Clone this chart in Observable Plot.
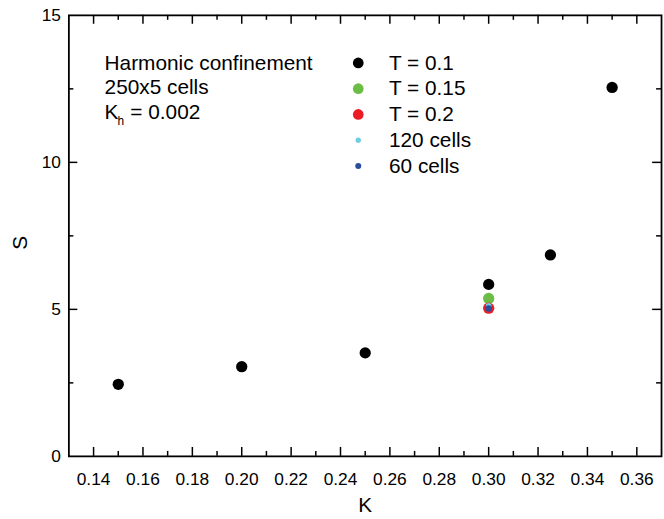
<!DOCTYPE html>
<html><head><meta charset="utf-8">
<script src="https://cdn.jsdelivr.net/npm/d3@7"></script>
<script src="https://cdn.jsdelivr.net/npm/@observablehq/plot@0.6"></script>
<style>html,body{margin:0;padding:0;overflow:hidden;background:#fff;width:664px;height:519px}</style>
</head><body><div id="chart"></div>
<script>
// ---- data ----
const seriesNames = ["T = 0.1", "T = 0.15", "T = 0.2", "120 cells", "60 cells"];
const seriesColors = ["#000000", "#6cbd45", "#ec1c24", "#6dcde2", "#2b4d9c"];
const seriesRadius = [5.7, 5.7, 5.7, 2.8, 3.2];
const K_T01 = [0.15, 0.20, 0.25, 0.30, 0.325, 0.35];
const S_T01 = [2.45, 3.05, 3.52, 5.85, 6.85, 12.55];
const K_T015 = [0.30];
const S_T015 = [5.37];
const K_T02 = [0.30];
const S_T02 = [5.04];
const K_120 = [0.30];
const S_120 = [5.12];
const K_60 = [0.30];
const S_60 = [5.03];
const xTickLabels = [0.14, 0.16, 0.18, 0.20, 0.22, 0.24, 0.26, 0.28, 0.30, 0.32, 0.34, 0.36];
const xMinorTicks = [0.15, 0.17, 0.19, 0.21, 0.23, 0.25, 0.27, 0.29, 0.31, 0.33, 0.35];
const yTickLabels = [0, 5, 10, 15];
const yMajorInner = [5, 10];
const yMinorTicks = [2.5, 7.5, 12.5];
const infoLines = ["Harmonic confinement", "250x5 cells"];

// ---- layout ----
const W = 670, H = 519, mL = 69, mR = 3, mT = 15, mB = 59;
const innerW = W - mL - mR, innerH = H - mT - mB;
const majorLen = 9, minorLen = 5;
const font = "'Liberation Sans', Arial, Helvetica, sans-serif";
const legendFont = 21;

const seriesK = [K_T01, K_T015, K_T02, K_120, K_60];
const seriesS = [S_T01, S_T015, S_T02, S_120, S_60];

const dotMarks = seriesK.map((ks, i) =>
  Plot.dot(ks.map((k, j) => ({K: k, S: seriesS[i][j]})), {
    x: "K", y: "S", r: seriesRadius[i], fill: seriesColors[i], stroke: "none"
  })
);

const legendMarks = seriesNames.flatMap((name, i) => [
  Plot.dot([name], {frameAnchor: "top-left", dx: 292, dy: 48 + i * 26, r: seriesRadius[i] * 0.95, fill: seriesColors[i]}),
  Plot.text([name], {frameAnchor: "top-left", lineAnchor: "middle", dx: 323, dy: 48 + i * 26, text: d => d, textAnchor: "start", fontSize: legendFont, fill: "black"})
]);

const infoMarks = [
  ...infoLines.map((t, i) => Plot.text([t], {frameAnchor: "top-left", lineAnchor: "middle", dx: 36, dy: 48 + i * 25, text: d => d, textAnchor: "start", fontSize: legendFont, fill: "black"})),
  Plot.text(["K"], {frameAnchor: "top-left", lineAnchor: "middle", dx: 36, dy: 98, text: d => d, textAnchor: "start", fontSize: legendFont, fill: "black"}),
  Plot.text(["h"], {frameAnchor: "top-left", lineAnchor: "middle", dx: 49, dy: 107, text: d => d, textAnchor: "start", fontSize: 12, fill: "black"}),
  Plot.text(["= 0.002"], {frameAnchor: "top-left", lineAnchor: "middle", dx: 62, dy: 98, text: d => d, textAnchor: "start", fontSize: legendFont, fill: "black"})
];

const chart = Plot.plot({
  width: W, height: H,
  marginLeft: mL, marginRight: mR, marginTop: mT, marginBottom: mB,
  style: {fontFamily: font, background: "white", color: "black", overflow: "visible"},
  x: {domain: [0.13, 0.37]},
  y: {domain: [0, 15]},
  marks: [
    // ticks pointing inward
    Plot.tickX(xTickLabels, {x: d => d, insetTop: innerH - majorLen, stroke: "black", strokeWidth: 1.5}),
    Plot.tickX(xTickLabels, {x: d => d, insetBottom: innerH - majorLen, stroke: "black", strokeWidth: 1.5}),
    Plot.tickX(xMinorTicks, {x: d => d, insetTop: innerH - minorLen, stroke: "black", strokeWidth: 1.5}),
    Plot.tickX(xMinorTicks, {x: d => d, insetBottom: innerH - minorLen, stroke: "black", strokeWidth: 1.5}),
    Plot.tickY(yMajorInner, {y: d => d, insetRight: innerW - majorLen, stroke: "black", strokeWidth: 1.5}),
    Plot.tickY(yMajorInner, {y: d => d, insetLeft: innerW - majorLen, stroke: "black", strokeWidth: 1.5}),
    Plot.tickY(yMinorTicks, {y: d => d, insetRight: innerW - minorLen, stroke: "black", strokeWidth: 1.5}),
    Plot.tickY(yMinorTicks, {y: d => d, insetLeft: innerW - minorLen, stroke: "black", strokeWidth: 1.5}),
    Plot.axisX(xTickLabels, {tickSize: 0, tickPadding: 16, tickFormat: d3.format(".2f"), fontSize: 17.5, label: null}),
    Plot.axisY(yTickLabels, {tickSize: 0, tickPadding: 8, tickFormat: d3.format("d"), fontSize: 17.5, label: null}),
    Plot.text(["K"], {frameAnchor: "bottom", lineAnchor: "middle", dy: 49, text: d => d, fontSize: 21}),
    Plot.text(["S"], {frameAnchor: "left", lineAnchor: "middle", dx: -49, dy: 14, rotate: -90, text: d => d, fontSize: 21}),
    Plot.frame({stroke: "black", strokeWidth: 1.8}),
    ...dotMarks,
    ...infoMarks,
    ...legendMarks
  ]
});
document.getElementById("chart").appendChild(chart);
</script></body></html>
